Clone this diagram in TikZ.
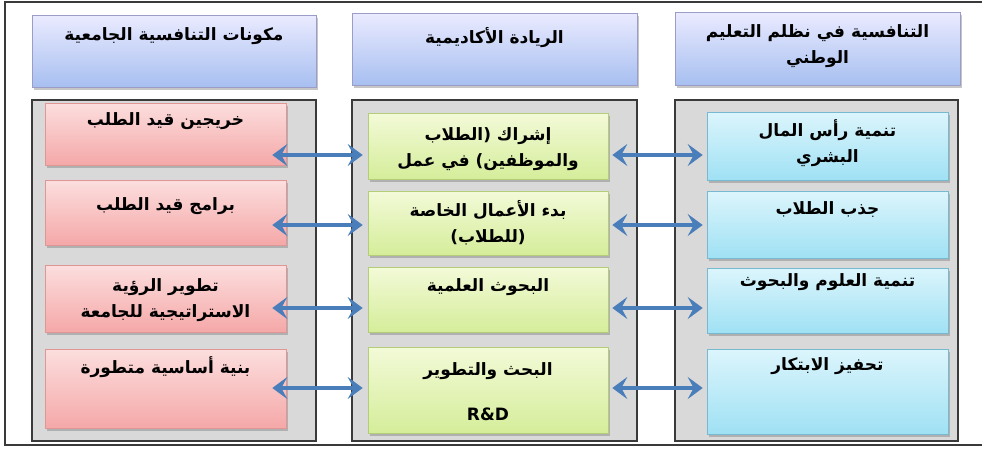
\documentclass[tikz,border=0pt]{standalone}
\usepackage{fontspec}
\newfontfamily\arabicfont[Script=Arabic]{DejaVu Sans}
\TeXXeTstate=1
\usetikzlibrary{fit,shadows,arrows.meta}
\definecolor{frm}{HTML}{3A3A3A}
\definecolor{pnl}{HTML}{D9D9D9}
\definecolor{arr}{HTML}{4A7EBB}
\tikzset{
  shd/.style={drop shadow={opacity=0.45, shadow xshift=2pt, shadow yshift=-3pt}},
  hdr/.style={shd, draw=blue!30!gray!60, line width=0.6pt, top color=blue!8!white, bottom color={rgb,255:red,167;green,191;blue,240}, inner sep=0pt},
  panel/.style={draw=frm, line width=1.4pt, fill=pnl, inner sep=0pt},
  redbox/.style={shd, draw={rgb,255:red,225;green,150;blue,150}, line width=0.6pt, top color={rgb,255:red,252;green,222;blue,222}, bottom color={rgb,255:red,245;green,168;blue,168}, inner sep=0pt},
  grnbox/.style={shd, draw={rgb,255:red,180;green,205;blue,120}, line width=0.6pt, top color={rgb,255:red,243;green,250;blue,216}, bottom color={rgb,255:red,213;green,237;blue,154}, inner sep=0pt},
  blubox/.style={shd, draw={rgb,255:red,120;green,185;blue,210}, line width=0.6pt, top color={rgb,255:red,220;green,245;blue,252}, bottom color={rgb,255:red,159;green,225;blue,244}, inner sep=0pt},
  txt/.style={font=\arabicfont\bfseries\fontsize{17}{26}\selectfont, align=center, anchor=north, inner sep=0pt, text=black},
  biarrow/.style={draw=arr, line width=3.2pt, {Stealth[length=15pt,width=22pt,inset=6pt]}-{Stealth[length=15pt,width=22pt,inset=6pt]}}
}
\begin{document}
\begin{tikzpicture}[x=1pt,y=-1pt]
\useasboundingbox (0,0) rectangle (982,456);
% outer frame
\draw[frm, line width=1.2pt] (983,2) -- (5,2) -- (5,445) -- (983,445);
% headers
\node[hdr, fit={(32,15) (316,87)}] (h1) {};
\node[hdr, fit={(352,13) (637,85)}] (h2) {};
\node[hdr, fit={(675,12) (960,85)}] (h3) {};
\node[txt, yshift=-13pt] (th1) at (h1.north) {\beginR مكونات التنافسية الجامعية\endR};
\node[txt, yshift=-15pt] (th2) at (h2.north) {\beginR الريادة الأكاديمية\endR};
\node[txt, yshift=-13pt] (th3) at (h3.north) {\beginR التنافسية في نظلم التعليم\endR\\\beginR الوطني\endR};
% panels
\node[panel, fit={(32,100) (316,441)}] (p1) {};
\node[panel, fit={(352,100) (637,441)}] (p2) {};
\node[panel, fit={(675,100) (958,441)}] (p3) {};
% red boxes
\node[redbox, fit={(45,103) (286,165)}] (r1) {};
\node[redbox, fit={(45,180) (286,245)}] (r2) {};
\node[redbox, fit={(45,265) (286,332)}] (r3) {};
\node[redbox, fit={(45,349) (286,428)}] (r4) {};
% green boxes
\node[grnbox, fit={(368,113) (608,179)}] (g1) {};
\node[grnbox, fit={(368,191) (608,255)}] (g2) {};
\node[grnbox, fit={(368,267) (608,332)}] (g3) {};
\node[grnbox, fit={(368,347) (608,433)}] (g4) {};
% blue boxes
\node[blubox, fit={(707,112) (948,180)}] (b1) {};
\node[blubox, fit={(707,191) (948,258)}] (b2) {};
\node[blubox, fit={(707,268) (948,333)}] (b3) {};
\node[blubox, fit={(707,349) (948,434)}] (b4) {};
% texts
\node[txt, yshift=-10pt] (tr1) at (r1.north) {\beginR خريجين قيد الطلب\endR};
\node[txt, yshift=-18pt] (tr2) at (r2.north) {\beginR برامج قيد الطلب\endR};
\node[txt, yshift=-14pt] (tr3) at (r3.north) {\beginR تطوير الرؤية\endR\\\beginR الاستراتيجية للجامعة\endR};
\node[txt, yshift=-8pt] (tr4) at (r4.north) {\beginR بنية أساسية متطورة\endR};
\node[txt, yshift=-15pt] (tg1) at (g1.north) {\beginR إشراك (الطلاب\endR\\\beginR والموظفين) في عمل\endR};
\node[txt, yshift=-10pt] (tg2) at (g2.north) {\beginR بدء الأعمال الخاصة\endR\\\beginR (للطلاب)\endR};
\node[txt, yshift=-12pt] (tg3) at (g3.north) {\beginR البحوث العلمية\endR};
\node[txt, yshift=-16pt] (tg4) at (g4.north) {\beginR البحث والتطوير\endR\\[19pt]R\&D};
\node[txt, yshift=-8pt] (tb1) at (b1.north) {\beginR تنمية رأس المال\endR\\\beginR البشري\endR};
\node[txt, yshift=-11pt] (tb2) at (b2.north) {\beginR جذب الطلاب\endR};
\node[txt, yshift=-6pt] (tb3) at (b3.north) {\beginR تنمية العلوم والبحوث\endR};
\node[txt, yshift=-9pt] (tb4) at (b4.north) {\beginR تحفيز الابتكار\endR};
% arrows
\draw[biarrow] ([shift={(-14,21)}]r1.east) -- ([shift={(-5,9)}]g1.west);
\draw[biarrow] ([shift={(-14,12.5)}]r2.east) -- ([shift={(-5,2)}]g2.west);
\draw[biarrow] ([shift={(-14,9.5)}]r3.east) -- ([shift={(-5,8.5)}]g3.west);
\draw[biarrow] ([shift={(-14,-0.5)}]r4.east) -- ([shift={(-5,-2)}]g4.west);
\draw[biarrow] ([shift={(4,9)}]g1.east) -- ([shift={(-4,9)}]b1.west);
\draw[biarrow] ([shift={(4,2)}]g2.east) -- ([shift={(-4,0.5)}]b2.west);
\draw[biarrow] ([shift={(4,8.5)}]g3.east) -- ([shift={(-4,7.5)}]b3.west);
\draw[biarrow] ([shift={(4,-2)}]g4.east) -- ([shift={(-4,-3.5)}]b4.west);
\end{tikzpicture}
\end{document}
